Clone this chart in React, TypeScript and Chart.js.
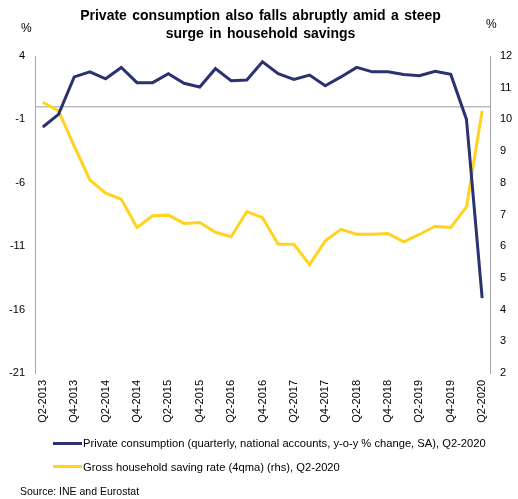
import React, { useEffect, useRef } from "react";
import { Chart, registerables } from "chart.js";

Chart.register(...registerables);

const CATEGORIES = [
  "Q2-2013", "Q3-2013", "Q4-2013", "Q1-2014", "Q2-2014", "Q3-2014", "Q4-2014",
  "Q1-2015", "Q2-2015", "Q3-2015", "Q4-2015", "Q1-2016", "Q2-2016", "Q3-2016",
  "Q4-2016", "Q1-2017", "Q2-2017", "Q3-2017", "Q4-2017", "Q1-2018", "Q2-2018",
  "Q3-2018", "Q4-2018", "Q1-2019", "Q2-2019", "Q3-2019", "Q4-2019", "Q1-2020",
  "Q2-2020",
];

const PRIVATE_CONSUMPTION = [
  -1.6, -0.6, 2.35, 2.75, 2.2, 3.1, 1.9, 1.9, 2.6, 1.85, 1.55, 3.0, 2.05, 2.1,
  3.55, 2.6, 2.15, 2.5, 1.65, 2.35, 3.1, 2.75, 2.75, 2.55, 2.45, 2.8, 2.55,
  -1.0, -15.1,
];

const SAVING_RATE = [
  10.54, 10.27, 9.16, 8.09, 7.67, 7.48, 6.59, 6.96, 6.98, 6.72, 6.75, 6.44,
  6.3, 7.09, 6.9, 6.06, 6.06, 5.42, 6.17, 6.53, 6.38, 6.38, 6.4, 6.14, 6.37,
  6.63, 6.59, 7.24, 10.27,
];

const LEFT_TICKS = [-21, -16, -11, -6, -1, 4];
const RIGHT_TICKS = [2, 3, 4, 5, 6, 7, 8, 9, 10, 11, 12];

const SERIES_NAMES = [
  "Private consumption (quarterly, national accounts, y-o-y % change, SA), Q2-2020",
  "Gross household saving rate (4qma) (rhs), Q2-2020",
];

const NAVY = "#2B3270";
const YELLOW = "#FFD320";
const FONT = "'Liberation Sans', Arial, sans-serif";

const zeroLinePlugin = {
  id: "zeroLine",
  beforeDatasetsDraw(chart: any) {
    const y = chart.scales.y.getPixelForValue(0);
    const { left, right } = chart.chartArea;
    const ctx = chart.ctx;
    ctx.save();
    ctx.strokeStyle = "#BDBDBD";
    ctx.lineWidth = 1.5;
    ctx.beginPath();
    ctx.moveTo(left, y);
    ctx.lineTo(right, y);
    ctx.stroke();
    ctx.restore();
  },
};

export default function App() {
  const ref = useRef<HTMLCanvasElement>(null);

  useEffect(() => {
    if (!ref.current) return;
    const chart = new Chart(ref.current, {
      type: "line",
      data: {
        labels: CATEGORIES,
        datasets: [
          {
            label: SERIES_NAMES[0],
            data: PRIVATE_CONSUMPTION,
            borderColor: NAVY,
            backgroundColor: NAVY,
            borderWidth: 3,
            pointRadius: 0,
            tension: 0,
            yAxisID: "y",
          },
          {
            label: SERIES_NAMES[1],
            data: SAVING_RATE,
            borderColor: YELLOW,
            backgroundColor: YELLOW,
            borderWidth: 3,
            pointRadius: 0,
            tension: 0,
            yAxisID: "y1",
          },
        ],
      },
      options: {
        animation: false,
        responsive: false,
        maintainAspectRatio: false,
        layout: { padding: { top: 56, left: 0, right: 0, bottom: 76 } },
        plugins: {
          legend: { display: false },
          title: { display: false },
          tooltip: { enabled: false },
        },
        scales: {
          x: {
            offset: true,
            grid: { display: false, drawTicks: false, offset: true },
            border: { display: false },
            ticks: {
              autoSkip: false,
              minRotation: 90,
              maxRotation: 90,
              padding: 7,
              color: "#000",
              font: { family: FONT, size: 11 },
              callback: (_v: any, i: number) => (i % 2 === 0 ? CATEGORIES[i] : ""),
            },
            afterFit: (s: any) => {
              s.height = 50;
            },
          },
          y: {
            position: "left",
            min: -21,
            max: 4,
            grid: { display: false, drawTicks: false },
            border: { display: true, color: "#A6A6A6", width: 1 },
            ticks: {
              padding: 10,
              color: "#000",
              font: { family: FONT, size: 11 },
            },
            afterBuildTicks: (s: any) => {
              s.ticks = LEFT_TICKS.map((v) => ({ value: v }));
            },
            afterFit: (s: any) => {
              s.width = 35;
            },
          },
          y1: {
            position: "right",
            min: 2,
            max: 12,
            grid: { display: false, drawTicks: false },
            border: { display: true, color: "#A6A6A6", width: 1 },
            ticks: {
              padding: 10,
              color: "#000",
              font: { family: FONT, size: 11 },
            },
            afterBuildTicks: (s: any) => {
              s.ticks = RIGHT_TICKS.map((v) => ({ value: v }));
            },
            afterFit: (s: any) => {
              s.width = 28;
            },
          },
        },
      },
      plugins: [zeroLinePlugin],
    } as any);
    return () => chart.destroy();
  }, []);

  const text: React.CSSProperties = {
    position: "absolute",
    fontFamily: FONT,
    color: "#000",
    whiteSpace: "nowrap",
  };

  return (
    <div
      style={{
        position: "fixed",
        top: 0,
        left: 0,
        width: 518,
        height: 499,
        background: "#fff",
        overflow: "hidden",
      }}
    >
      <canvas ref={ref} width={518} height={499} style={{ position: "absolute", left: 0, top: 0 }} />
      <div
        style={{
          ...text,
          left: 0,
          width: 521,
          top: 6,
          textAlign: "center",
          fontWeight: "bold",
          fontSize: 14,
          wordSpacing: 1.5,
          lineHeight: "18px",
        }}
      >
        Private consumption also falls abruptly amid a steep
        <br />
        surge in household savings
      </div>
      <div style={{ ...text, left: 21, top: 21, fontSize: 12 }}>%</div>
      <div style={{ ...text, left: 486, top: 17, fontSize: 12 }}>%</div>
      {SERIES_NAMES.map((name, i) => (
        <div
          key={name}
          style={{
            ...text,
            left: 53,
            top: 436 + i * 23.5,
            fontSize: 11.2,
            lineHeight: "14px",
            display: "flex",
            alignItems: "center",
          }}
        >
          <span
            style={{
              display: "inline-block",
              width: 29,
              height: 3,
              background: i === 0 ? NAVY : YELLOW,
              marginRight: 1,
            }}
          />
          {name}
        </div>
      ))}
      <div style={{ ...text, left: 20, top: 485, fontSize: 10.5, lineHeight: "13px" }}>
        Source: INE and Eurostat
      </div>
    </div>
  );
}
